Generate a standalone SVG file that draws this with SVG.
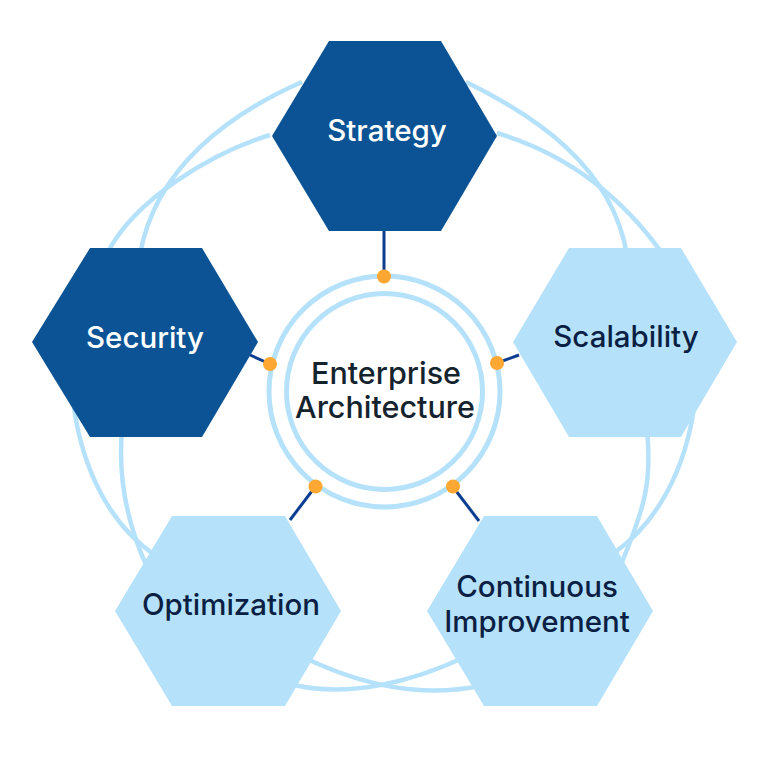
<svg xmlns="http://www.w3.org/2000/svg" width="768" height="768" viewBox="0 0 768 768">
<style>
.arc{fill:none;stroke:#B5E2FA;stroke-width:4.5}
.ring{fill:none;stroke:#B5E2FA;stroke-width:5}
.link{stroke:#0B3D91;stroke-width:3;fill:none}
.dot{fill:#FFA733}
.dark{fill:#0B5394}
.light{fill:#B5E2FA}
text{font-family:Inter,"Liberation Sans",sans-serif;font-size:29.5px;font-weight:500;text-anchor:middle}
.w{fill:#FFFFFF}
.n{fill:#0B1F44}
.c{fill:#14232E;font-size:30.5px}
</style>
<rect width="768" height="768" fill="#FFFFFF"/>
<g id="connectors">
<path class="arc" d="M302 82C231 113 155 167 140 255"/>
<path class="arc" d="M466 82C535 116 612 166 627 255"/>
<path class="arc" d="M270 135C210 153 134 201 108 252"/>
<path class="arc" d="M497 133C564 153 619 193 662 253"/>
<path class="arc" d="M74 408C83 470 110 525 155 555"/>
<path class="arc" d="M122 430C118 475 126 520 146 565"/>
<path class="arc" d="M694 408C685 470 657 523 614 553"/>
<path class="arc" d="M647 430C652 481 645 507 622 562"/>
<path class="arc" d="M305 658C362 685 419 698 480 686"/>
<path class="arc" d="M290 684C348 699 414 681 465 657"/>
<path class="link" d="M384 231V276"/>
<path class="link" d="M250 355L270 364"/>
<path class="link" d="M519 355L497 363"/>
<path class="link" d="M290 520L315 487"/>
<path class="link" d="M479 521L453 487"/>
</g>
<g id="hub">
<circle class="ring" cx="384.5" cy="391.5" r="115.5"/>
<circle class="ring" cx="384.5" cy="391.5" r="98"/>
<circle class="dot" cx="384" cy="276.5" r="7"/>
<circle class="dot" cx="270" cy="364" r="7"/>
<circle class="dot" cx="497" cy="363" r="7"/>
<circle class="dot" cx="315.5" cy="486.5" r="7"/>
<circle class="dot" cx="453" cy="486.5" r="7"/>
<text class="c" x="386" y="384">Enterprise</text>
<text class="c" x="385" y="418">Architecture</text>
</g>
<g id="strategy"><polygon class="dark" points="272,136 329,41 441,41 497,136 441,231 329,231"/><text class="w" x="387" y="141">Strategy</text></g>
<g id="security"><polygon class="dark" points="32,342 90,248 202,248 258,342 202,437 90,437"/><text class="w" x="145" y="348">Security</text></g>
<g id="scalability"><polygon class="light" points="513,342 569,248 681,248 737,342 681,437 569,437"/><text class="n" x="626" y="347">Scalability</text></g>
<g id="optimization"><polygon class="light" points="115,611 172,516 285,516 341,611 285,706 172,706"/><text class="n" x="231" y="615">Optimization</text></g>
<g id="improvement"><polygon class="light" points="427,611 484,516 597,516 653,611 597,706 484,706"/><text class="n" x="537" y="597">Continuous</text><text class="n" x="537" y="632">Improvement</text></g>
</svg>
